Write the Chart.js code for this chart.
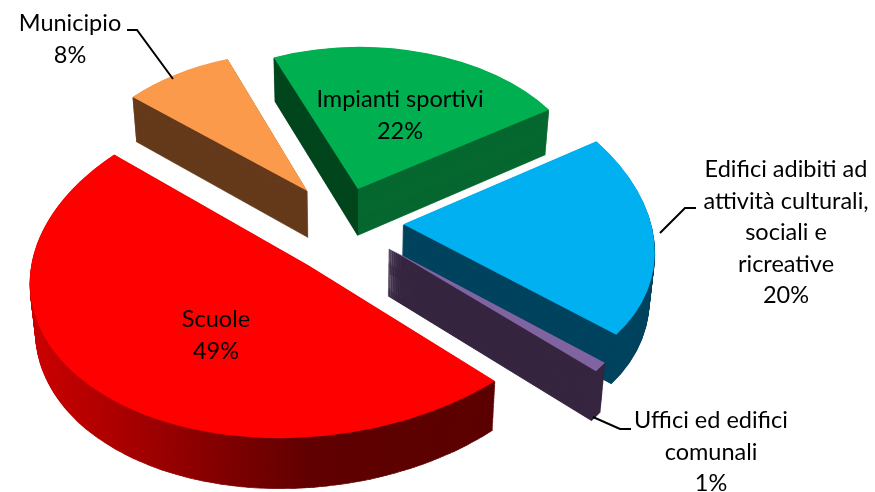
<!DOCTYPE html>
<html>
<head>
<meta charset="utf-8">
<style>
  html, body { margin: 0; padding: 0; background: #fff; }
  #wrap { width: 875px; height: 492px; }
</style>
</head>
<body>
<div id="wrap"><canvas id="chart" width="875" height="492"></canvas></div>
<script src="https://cdn.jsdelivr.net/npm/chart.js@4"></script>
<script>
const categories = ["Scuole", "Municipio", "Impianti sportivi", "Edifici adibiti ad attività culturali, sociali e ricreative", "Uffici ed edifici comunali"];
const values = [49.4, 8, 21.7, 20, 0.9];
const topColors = ["#ff0000", "#fb9a4a", "#00b050", "#00b0f0", "#8064a2"];
const wallColors = ["#600000", "#653a1b", "#066830", "#00445f", "#372640"];
const explode = [0.28, 0.24, 0.22, 0.245, 0.245];

// wrapped label text, per category
const labelLines = [
  ["Scuole"],
  ["Municipio"],
  ["Impianti sportivi"],
  ["Edifici adibiti ad", "attività culturali,", "sociali e", "ricreative"],
  ["Uffici ed edifici", "comunali"],
];
const labelPos = [[216, 327], [70, 31], [400, 107], [786, 177], [711, 428]];
const leaders = [
  null,
  [[127, 30], [137, 30], [173, 79]],
  null,
  [[660, 233], [685, 208], [696, 208]],
  [[593, 417], [620, 429], [631, 429]],
];

// camera for the tilted, exploded pie
const cam = { cx: 342, cy: 222, s: 250, k: 162, p: 0.11, skew: 40, depth: 47 };
const drawOrder = [2, 1, 3, 4, 0];

function project(gx, gy, h) {
  const w = 1 - cam.p * gy;
  const shrink = 1 - 0.018 * h / cam.depth;
  return [
    cam.cx + (cam.s * gx / w) * shrink + cam.skew * Math.min(0, 1 / w - 1),
    cam.cy + cam.k * gy / w + h * (1 + 0.06 * gy),
  ];
}

// affine matrix taking three source points onto three destination points
function affine(src, dst) {
  const [[x0, y0], [x1, y1], [x2, y2]] = src;
  const det = (x1 - x0) * (y2 - y0) - (x2 - x0) * (y1 - y0);
  const solve = (v0, v1, v2) => {
    const a = ((v1 - v0) * (y2 - y0) - (v2 - v0) * (y1 - y0)) / det;
    const c = ((x1 - x0) * (v2 - v0) - (x2 - x0) * (v1 - v0)) / det;
    return [a, c, v0 - a * x0 - c * y0];
  };
  const [a, c, e] = solve(dst[0][0], dst[1][0], dst[2][0]);
  const [b, d, f] = solve(dst[0][1], dst[1][1], dst[2][1]);
  return [a, b, c, d, e, f];
}

function sliceMatrix(arc, i, h) {
  const a0 = arc.startAngle, a1 = arc.endAngle, mid = (a0 + a1) / 2;
  const r = arc.outerRadius;
  const ex = explode[i] * Math.cos(mid), ey = explode[i] * Math.sin(mid);
  const angles = a1 - a0 > 2.5 ? [a0, mid, a1] : [null, a0, a1];
  const src = [], dst = [];
  angles.forEach((a) => {
    const ux = a === null ? 0 : Math.cos(a);
    const uy = a === null ? 0 : Math.sin(a);
    src.push([arc.x + r * ux, arc.y + r * uy]);
    dst.push(project(ex + ux, ey + uy, h));
  });
  return affine(src, dst);
}

function paintArc(ctx, arc, color, border) {
  const copy = Object.create(arc);
  copy.options = {
    backgroundColor: color, borderColor: color, borderWidth: border, borderAlign: "center",
    offset: 0, spacing: 0, circular: true, selfJoin: false,
    borderDash: [], borderDashOffset: 0, borderJoinStyle: "round",
  };
  copy.draw(ctx);
}

function redShade(x) {
  const stops = [[30, [204, 0, 0]], [100, [178, 0, 0]], [170, [150, 0, 0]], [250, [118, 0, 0]], [310, [96, 0, 0]], [500, [92, 0, 0]]];
  for (let n = 1; n < stops.length; n++) {
    if (x <= stops[n][0]) {
      const t = (x - stops[n - 1][0]) / (stops[n][0] - stops[n - 1][0]);
      const c = stops[n - 1][1].map((v, j) => Math.round(v + (stops[n][1][j] - v) * t));
      return `rgb(${c.join(",")})`;
    }
  }
  return "rgb(92,0,0)";
}

function wallBands(arc, i) {
  if (i === 0) {
    const bands = [];
    for (let x = 24; x < 504; x += 4) bands.push([x, 4, redShade(x)]);
    return bands;
  }
  if (i === 2) {
    const mid = (arc.startAngle + arc.endAngle) / 2;
    const tip = project(explode[i] * Math.cos(mid), explode[i] * Math.sin(mid), 0);
    const split = Math.round(tip[0]);
    return [[0, split, "#00471f"], [split, 875 - split, wallColors[i]]];
  }
  return [[0, 875, wallColors[i]]];
}

const tiltedPie = {
  id: "tiltedPie",
  beforeDatasetsDraw(chart) {
    const ctx = chart.ctx;
    const arcs = chart.getDatasetMeta(0).data;
    drawOrder.forEach((i) => {
      const arc = arcs[i];
      wallBands(arc, i).forEach(([x, width, color]) => {
        ctx.save();
        ctx.beginPath();
        ctx.rect(x, 0, width, 492);
        ctx.clip();
        for (let h = cam.depth; h >= 1; h--) {
          ctx.save();
          ctx.transform(...sliceMatrix(arc, i, h));
          paintArc(ctx, arc, color, 1);
          ctx.restore();
        }
        ctx.restore();
      });
      ctx.save();
      ctx.transform(...sliceMatrix(arc, i, 0));
      paintArc(ctx, arc, topColors[i], 0);
      ctx.restore();
    });
    return false;
  },
  afterDraw(chart) {
    const ctx = chart.ctx;
    ctx.save();
    ctx.fillStyle = "#000";
    ctx.strokeStyle = "#000";
    ctx.lineWidth = 2;
    ctx.font = "23.5px Lato";
    ctx.textAlign = "center";
    categories.forEach((name, i) => {
      const [x, y] = labelPos[i];
      const lines = labelLines[i].concat(`${Math.round(values[i])}%`);
      lines.forEach((line, n) => ctx.fillText(line, x, y + n * 31.5));
      if (leaders[i]) {
        ctx.beginPath();
        leaders[i].forEach(([lx, ly], n) => (n ? ctx.lineTo(lx, ly) : ctx.moveTo(lx, ly)));
        ctx.stroke();
      }
    });
    ctx.restore();
  },
};

new Chart(document.getElementById("chart"), {
  type: "pie",
  data: {
    labels: categories,
    datasets: [{ data: values, backgroundColor: topColors, borderWidth: 0, rotation: 132.5 }],
  },
  options: {
    responsive: false,
    animation: false,
    plugins: { legend: { display: false }, tooltip: { enabled: false } },
  },
  plugins: [tiltedPie],
});
</script>
</body>
</html>
